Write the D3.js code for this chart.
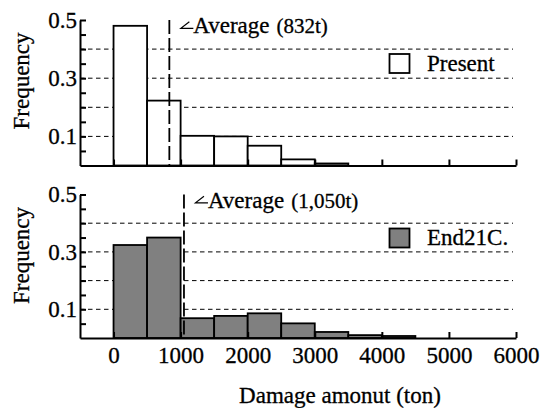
<!DOCTYPE html>
<html>
<head>
<meta charset="utf-8">
<script src="https://cdn.jsdelivr.net/npm/d3@7"></script>
<style>
  body { margin: 0; background: #fff; }
  .axis path, .axis line { stroke: #000; stroke-width: 2; }
  .grid line { stroke: #000; stroke-width: 1; stroke-dasharray: 4.5,3.5; }
  .bar { stroke: #000; stroke-width: 1.8; }
  svg text { stroke: #000; stroke-width: 0.3; }
</style>
</head>
<body>
<div id="chart"></div>
<script>
// histogram bins (ton), 500 t wide
const binStart = [0, 500, 1000, 1500, 2000, 2500, 3000, 3500, 4000, 4500];
const binWidth = 500;
const presentFreq = [0.48, 0.223, 0.102, 0.100, 0.068, 0.021, 0.007, 0, 0, 0];
const end21cFreq  = [0.324, 0.350, 0.069, 0.077, 0.086, 0.051, 0.021, 0.010, 0.007, 0];
const presentAvg = 832, end21cAvg = 1050;
const xTicks = [0, 1000, 2000, 3000, 4000, 5000, 6000];
const yLabelTicks = [0.1, 0.3, 0.5];
const yMinorTicks = [0.05, 0.1, 0.15, 0.2, 0.25, 0.3, 0.35, 0.4, 0.45, 0.5];
const gridTicks = [0.1, 0.2, 0.3, 0.4];

const WIDTH = 549, HEIGHT = 408;
const FONT = "'Liberation Serif', 'Times New Roman', Times, serif";
const FS = 23;

const svg = d3.select("#chart").append("svg")
  .attr("width", WIDTH).attr("height", HEIGHT)
  .attr("font-family", FONT);

const x = d3.scaleLinear().domain([-500, 6000]).range([80, 516]);

const panels = [
  { freq: presentFreq, avg: presentAvg, avgLabel: "(832t)", name: "Present",
    fill: "#fff", top: 20, bottom: 165.5, xLabels: false },
  { freq: end21cFreq, avg: end21cAvg, avgLabel: "(1,050t)", name: "End21C.",
    fill: "#808080", top: 194.5, bottom: 338, xLabels: true }
];

panels.forEach(p => {
  const y = d3.scaleLinear().domain([0, 0.5]).range([p.bottom, p.top]);
  const g = svg.append("g");

  // dashed gridlines
  g.append("g").attr("class", "grid")
    .selectAll("line").data(gridTicks).join("line")
    .attr("x1", x.range()[0]).attr("x2", x.range()[1] - 3)
    .attr("y1", d => y(d)).attr("y2", d => y(d));

  // bars
  const bins = binStart.map((b, i) => ({ x0: b, x1: b + binWidth, f: p.freq[i] }))
    .filter(d => d.f > 0);
  g.selectAll(".bar").data(bins).join("rect")
    .attr("class", "bar")
    .attr("fill", p.fill)
    .attr("x", d => x(d.x0))
    .attr("y", d => y(d.f))
    .attr("width", d => x(d.x1) - x(d.x0))
    .attr("height", d => y(0) - y(d.f));

  // average line + label
  g.append("line")
    .attr("x1", x(p.avg)).attr("x2", x(p.avg))
    .attr("y1", y(0.5)).attr("y2", y(0))
    .attr("stroke", "#000").attr("stroke-width", 1.8)
    .attr("stroke-dasharray", "14,4");

  const ax = x(p.avg), by = p.top + 13.3;
  g.append("path")
    .attr("d", `M${ax + 24},${by - 5} H${ax + 11.5} L${ax + 20},${by - 11.5}`)
    .attr("fill", "none").attr("stroke", "#000").attr("stroke-width", 1.2);
  const t = g.append("text").attr("x", ax + 24).attr("y", by)
    .attr("font-family", FONT).attr("font-size", FS);
  t.append("tspan").text("Average");
  t.append("tspan").attr("dx", 7).attr("font-size", 21).text(p.avgLabel);

  // y axis: minor ticks + labels
  g.append("g").attr("class", "axis")
    .attr("transform", `translate(${x.range()[0]},0)`)
    .call(d3.axisLeft(y).tickValues(yMinorTicks).tickSizeInner(-6).tickSizeOuter(0).tickFormat(""));
  g.append("g").attr("class", "axis")
    .attr("transform", `translate(${x.range()[0]},0)`)
    .call(d3.axisLeft(y).tickValues(yLabelTicks).tickSize(0).tickPadding(3).tickFormat(d3.format(".1f")))
    .call(a => a.attr("font-family", FONT).attr("font-size", FS))
    .call(a => a.select(".domain").remove());

  // x axis
  g.append("g").attr("class", "axis")
    .attr("transform", `translate(0,${y(0)})`)
    .call(d3.axisBottom(x).tickValues(xTicks).tickSizeInner(-6).tickSizeOuter(0)
      .tickPadding(9).tickFormat(p.xLabels ? d3.format("d") : ""))
    .call(a => a.attr("font-family", FONT).attr("font-size", FS));

  // legend
  g.append("rect")
    .attr("x", 389.5).attr("y", p.top + 34)
    .attr("width", 20).attr("height", 19)
    .attr("fill", p.fill).attr("stroke", "#000").attr("stroke-width", 1.8);
  g.append("text").attr("x", 427).attr("y", p.top + 50.5)
    .attr("font-family", FONT).attr("font-size", FS).text(p.name);

  // y label
  g.append("text")
    .attr("transform", `translate(29,${p.top + 61}) rotate(-90)`)
    .attr("text-anchor", "middle")
    .attr("font-family", FONT).attr("font-size", FS)
    .text("Frequency");
});

svg.append("text")
  .attr("x", 340).attr("y", 403)
  .attr("text-anchor", "middle")
  .attr("font-family", FONT).attr("font-size", FS)
  .text("Damage amonut (ton)");
</script>
</body>
</html>
